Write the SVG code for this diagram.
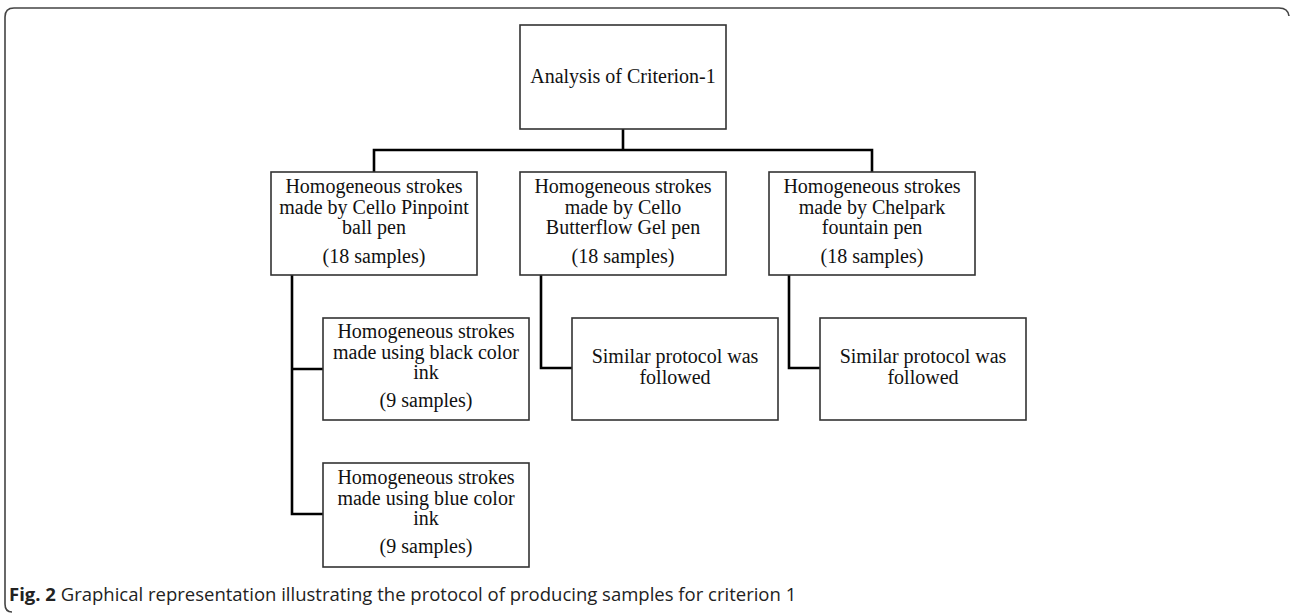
<svg xmlns="http://www.w3.org/2000/svg" width="1290" height="613" viewBox="0 0 1290 613">
<style>
.box{fill:#fff;stroke:#333;stroke-width:1.6}
.t{font-family:"Liberation Serif","Times New Roman",serif;font-size:20px;fill:#111;text-anchor:middle}
.c{fill:none;stroke:#000;stroke-width:2.6}
.cap{font-family:"Open Sans","Noto Sans",sans-serif;font-size:18.5px;fill:#222}
</style>
<rect width="1290" height="613" fill="#fff"/>
<path d="M12 612 Q5 612 5 604 L5 17 Q5 8 14 8 L1279 8 Q1288 8 1289 16" fill="none" stroke="#444" stroke-width="1.6"/>
<g id="connectors">
<path class="c" d="M623 129 V150 M374 172 V150 H872 V172"/>
<path class="c" d="M292 275 V514 H323 M292 369 H323"/>
<path class="c" d="M541 275 V368 H572"/>
<path class="c" d="M789 275 V368 H820"/>
</g>
<g id="root"><rect class="box" x="520" y="25" width="206" height="104"/><text class="t" x="623" y="83">Analysis of Criterion-1</text></g>
<g id="n1"><rect class="box" x="271" y="172" width="206" height="103"/><text class="t" x="374" y="193">Homogeneous strokes</text><text class="t" x="374" y="214">made by Cello Pinpoint</text><text class="t" x="374" y="234">ball pen</text><text class="t" x="374" y="263">(18 samples)</text></g>
<g id="n2"><rect class="box" x="520" y="172" width="206" height="103"/><text class="t" x="623" y="193">Homogeneous strokes</text><text class="t" x="623" y="214">made by Cello</text><text class="t" x="623" y="234">Butterflow Gel pen</text><text class="t" x="623" y="263">(18 samples)</text></g>
<g id="n3"><rect class="box" x="769" y="172" width="206" height="103"/><text class="t" x="872" y="193">Homogeneous strokes</text><text class="t" x="872" y="214">made by Chelpark</text><text class="t" x="872" y="234">fountain pen</text><text class="t" x="872" y="263">(18 samples)</text></g>
<g id="n4"><rect class="box" x="323" y="318" width="206" height="102"/><text class="t" x="426" y="338">Homogeneous strokes</text><text class="t" x="426" y="359">made using black color</text><text class="t" x="426" y="379">ink</text><text class="t" x="426" y="407">(9 samples)</text></g>
<g id="n5"><rect class="box" x="323" y="463" width="206" height="104"/><text class="t" x="426" y="484">Homogeneous strokes</text><text class="t" x="426" y="505">made using blue color</text><text class="t" x="426" y="525">ink</text><text class="t" x="426" y="553">(9 samples)</text></g>
<g id="n6"><rect class="box" x="572" y="318" width="206" height="102"/><text class="t" x="675" y="363">Similar protocol was</text><text class="t" x="675" y="384">followed</text></g>
<g id="n7"><rect class="box" x="820" y="318" width="206" height="102"/><text class="t" x="923" y="363">Similar protocol was</text><text class="t" x="923" y="384">followed</text></g>
<text class="cap" x="9" y="601"><tspan font-weight="bold">Fig. 2</tspan> Graphical representation illustrating the protocol of producing samples for criterion 1</text>
</svg>
